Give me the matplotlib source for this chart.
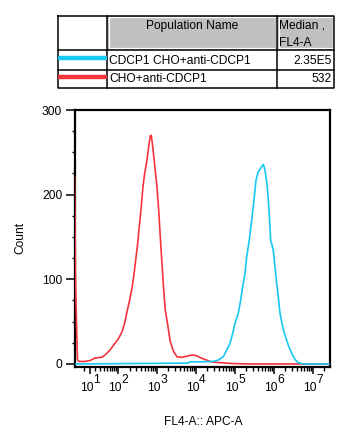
import numpy as np
import matplotlib
matplotlib.use("Agg")
import matplotlib.pyplot as plt
from matplotlib.patches import Rectangle
from matplotlib.ticker import FixedLocator, NullFormatter

plt.rcParams['font.family'] = ['Liberation Sans', 'DejaVu Sans']

# ---------------- data ----------------
red_x = [-15.5, -13.7, -11.9, -10.3, -7.8, 1.85, 10.0, 19.1, 34.8, 43.2, 60.4, 76.4,
         104, 127, 149, 172, 197, 231, 256, 281, 317, 356, 401, 443, 490, 562, 621,
         683, 725, 787, 886, 1014, 1122, 1233, 1362, 1507, 1656, 1943, 2225, 2719,
         3305, 4439, 5623, 7245, 9014, 10761, 14454, 19084, 24600, 34440, 47090,
         67100, 101400, 246000, 26000000]
red_y = [221, 99, 44, 5, 3, 3, 4, 7, 8, 10.5, 16.4, 22.3,
         30.2, 38, 48, 61.7, 73.5, 89.3, 103, 118.8, 138.5, 162, 185.7, 209.3, 225, 240.9, 256.6,
         269.2, 270.4, 257, 235, 209.3, 181.8, 150.3, 118.8, 87.3, 63.7, 44, 26.2, 14.4,
         8.5, 7.8, 9, 10.2, 10.5, 9.5, 6.6, 4.6, 2.6, 1.8, 1.4,
         0.8, 0.4, 0, 0]

blue_x = [-15.5, 6327, 7120, 12850, 27680, 37850, 50840, 62150, 75520, 88570, 101400,
          123300, 142000, 159800, 183100, 202400, 236000, 272000, 311500, 350600,
          401500, 462500, 539300, 596300, 683000, 755300, 835100, 973500, 1076000,
          1190000, 1308000, 1446000, 1696000, 1943000, 2360000, 2884000, 3506000,
          4260000, 5208000, 6327000, 26000000]
blue_y = [0, 1, 2.6, 2.5, 3, 4.6, 8.5, 16.4, 24.3, 36.1, 48,
          59.8, 75.5, 91.2, 107, 126.6, 146.4, 170, 193.6, 217,
          227, 231, 236, 229, 209.3, 181.8, 146.4, 134.6, 114.8,
          95.2, 79.4, 59.8, 44, 34.1, 22.3, 12.5, 5.4,
          1.5, 0.5, 0, 0]

decades = [1, 2, 3, 4, 5, 6, 7]
y_ticks = [0, 100, 200, 300]
y_minor = [25, 50, 75, 125, 150, 175, 225, 250, 275]

table_names = ["CDCP1 CHO+anti-CDCP1", "CHO+anti-CDCP1"]
table_medians = ["2.35E5", "532"]
series_colors = ["#16C8F2", "#F5333B"]

# ---------------- figure ----------------
W, H = 351, 438
fig = plt.figure(figsize=(W / 100, H / 100), dpi=100)

# calibrate font size so that the long table label is ~141 px wide (as in the reference)
_probe = fig.text(0, 0, table_names[0], fontsize=10)
fig.canvas.draw()
_w = _probe.get_window_extent(fig.canvas.get_renderer()).width
_probe.remove()
FS = 10 * 141.0 / _w if _w > 0 else 8.6

L, R, T, B = 74.5, 329.5, 110, 366.5
ax = fig.add_axes([L / W, 1 - B / H, (R - L) / W, (B - T) / H])

C = 27.0
fwd = lambda v: np.arcsinh(np.asarray(v, dtype=float) / C) / np.log(10)
inv = lambda u: C * np.sinh(np.asarray(u, dtype=float) * np.log(10))
ax.set_xscale('function', functions=(fwd, inv))

ax.plot(red_x, red_y, color=series_colors[1], lw=1.2, zorder=3, solid_joinstyle='miter')
ax.plot(blue_x, blue_y, color=series_colors[0], lw=1.2, zorder=3, solid_joinstyle='miter')

ax.set_xlim(-15.6, 2.69e7)
ax.set_ylim(-3, 300)

for s in ax.spines.values():
    s.set_linewidth(1.6)
    s.set_zorder(2.5)

# x ticks
majors = [10.0 ** d for d in decades]
minors = [0.0]
for d in range(1, 7):
    for k in range(2, 10):
        minors.append(k * 10.0 ** d)
minors += [2e7]
ax.xaxis.set_major_locator(FixedLocator(majors))
ax.xaxis.set_minor_locator(FixedLocator(minors))
ax.xaxis.set_major_formatter(NullFormatter())
ax.xaxis.set_minor_formatter(NullFormatter())
ax.tick_params(axis='x', which='major', length=5, width=1.1, direction='out')
ax.tick_params(axis='x', which='minor', length=3, width=1.0, direction='out')

# y ticks
ax.yaxis.set_major_locator(FixedLocator(y_ticks))
ax.yaxis.set_minor_locator(FixedLocator(y_minor))
ax.tick_params(axis='y', which='major', length=6.5, width=1.1, direction='out',
               labelsize=FS, pad=2.4)
ax.tick_params(axis='y', which='minor', length=2.5, width=1.0, direction='out')

# decade labels 10^n
for d in decades:
    v = 10.0 ** d
    ax.annotate("10", xy=(v, 0), xycoords=('data', 'axes fraction'),
                xytext=(2.5, -17.5), textcoords='offset points',
                ha='right', va='baseline', fontsize=FS)
    ax.annotate(str(d), xy=(v, 0), xycoords=('data', 'axes fraction'),
                xytext=(2.5, -11.7), textcoords='offset points',
                ha='left', va='baseline', fontsize=FS)

fig.text(20 / W, 1 - 238 / H, "Count", rotation=90, ha='center', va='center', fontsize=FS)
fig.text(203 / W, 1 - 422 / H, "FL4-A:: APC-A", ha='center', va='center', fontsize=FS)

# ---------------- table ----------------
tb = fig.add_axes([0, 0, 1, 1], zorder=5)
tb.set_xlim(0, W)
tb.set_ylim(H, 0)
tb.axis('off')
tb.patch.set_alpha(0)

x0, x1, x2, x3 = 58, 107, 277, 334
y0, y1, y2, y3 = 15.5, 49.5, 69.5, 87.5

for (xa, xb) in [(x1, x2), (x2, x3)]:
    tb.add_patch(Rectangle((xa, y0), xb - xa, y1 - y0, facecolor='#C0C0C0',
                           edgecolor='none'))
    tb.add_patch(Rectangle((xa + 1.5, y0 + 1.5), xb - xa - 3, y1 - y0 - 3,
                           facecolor='none', edgecolor='white', lw=0.9))

lw = 1.1
tb.plot([x0, x3, x3, x0, x0], [y0, y0, y3, y3, y0], color='black', lw=lw)
tb.plot([x0, x3], [y1, y1], color='black', lw=lw)
tb.plot([x0, x3], [y2, y2], color='black', lw=lw)
tb.plot([x1, x1], [y0, y3], color='black', lw=lw)
tb.plot([x2, x2], [y0, y3], color='black', lw=lw)

tb.text((x1 + x2) / 2, 26, "Population Name", ha='center', va='center', fontsize=FS)
tb.text(x2 + 2, 26, "Median ,", ha='left', va='center', fontsize=FS)
tb.text(x2 + 2, 43, "FL4-A", ha='left', va='center', fontsize=FS)

row_c = [(y1 + y2) / 2 + 1, (y2 + y3) / 2 + 1]
for i in range(2):
    tb.plot([x0, x1], [row_c[i] - 3, row_c[i] - 3], color=series_colors[i], lw=3.2,
            solid_capstyle='butt')
    tb.text(x1 + 2, row_c[i], table_names[i], ha='left', va='center', fontsize=FS)
    tb.text(x3 - 2, row_c[i], table_medians[i], ha='right', va='center', fontsize=FS)

fig.savefig("out.png", dpi=100)
